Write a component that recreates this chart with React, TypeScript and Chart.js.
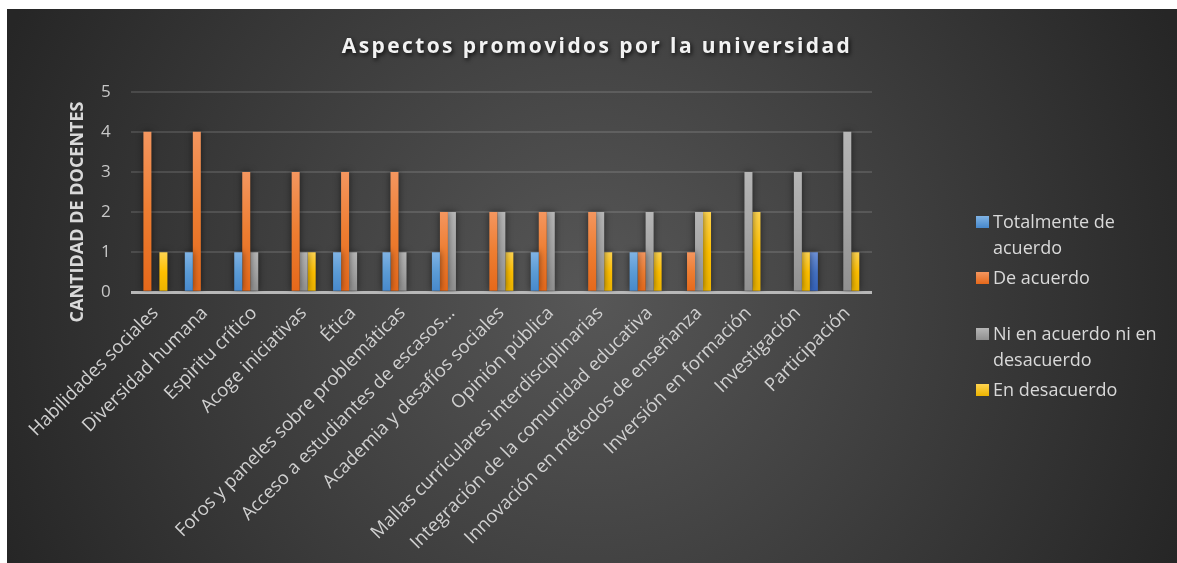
import React, { useEffect, useRef } from "react";
import { Chart, registerables } from "chart.js";

Chart.register(...registerables);

const chartTitle = "Aspectos promovidos por la universidad";
const yAxisTitle = "CANTIDAD DE DOCENTES";

const categories = [
  "Habilidades sociales",
  "Diversidad humana",
  "Espìritu crítico",
  "Acoge iniciativas",
  "Ética",
  "Foros y paneles sobre problemáticas",
  "Acceso a estudiantes de escasos…",
  "Academia y desafíos sociales",
  "Opinión pública",
  "Mallas curriculares interdisciplinarias",
  "Integración de la comunidad educativa",
  "Innovación en métodos de enseñanza",
  "Inversión en formación",
  "Investigación",
  "Participación",
];

const seriesNames = [
  "Totalmente de acuerdo",
  "De acuerdo",
  "Ni en acuerdo ni en desacuerdo",
  "En desacuerdo",
  "Totalmente en desacuerdo",
];

const totalmenteDeAcuerdo = [0, 1, 1, 0, 1, 1, 1, 0, 1, 0, 1, 0, 0, 0, 0];
const deAcuerdo = [4, 4, 3, 3, 3, 3, 2, 2, 2, 2, 1, 1, 0, 0, 0];
const niAcuerdoNiDesacuerdo = [0, 0, 1, 1, 1, 1, 2, 2, 2, 2, 2, 2, 3, 3, 4];
const enDesacuerdo = [1, 0, 0, 1, 0, 0, 0, 1, 0, 1, 1, 2, 2, 1, 1];
const totalmenteEnDesacuerdo = [0, 0, 0, 0, 0, 0, 0, 0, 0, 0, 0, 0, 0, 1, 0];

const seriesValues = [
  totalmenteDeAcuerdo,
  deAcuerdo,
  niAcuerdoNiDesacuerdo,
  enDesacuerdo,
  totalmenteEnDesacuerdo,
];
const legendShown = [true, true, true, true, false];

const yMin = 0;
const yMax = 5;
const yStep = 1;

// styles
const seriesGradients: [string, string, string][] = [
  ["#80B3E4", "#5B9BD5", "#4688CC"],
  ["#F4965F", "#ED7D31", "#E5681A"],
  ["#B6B6B6", "#A5A5A5", "#909090"],
  ["#FFD450", "#FFC000", "#EBB300"],
  ["#6E92D8", "#4472C4", "#3462BC"],
];

const FONT = "'Open Sans', 'DejaVu Sans', sans-serif";

const barShadowPlugin = {
  id: "barShadow",
  beforeDatasetsDraw(chart: any) {
    const ctx = chart.ctx;
    ctx.save();
    ctx.shadowColor = "rgba(0,0,0,0.55)";
    ctx.shadowBlur = 7;
    ctx.shadowOffsetX = 0;
    ctx.shadowOffsetY = 0;
  },
  afterDatasetsDraw(chart: any) {
    chart.ctx.restore();
  },
};

function wrapText(ctx: CanvasRenderingContext2D, text: string, maxW: number) {
  const words = text.split(" ");
  const lines: string[] = [];
  let cur = "";
  for (const w of words) {
    const t = cur ? cur + " " + w : w;
    if (ctx.measureText(t).width > maxW && cur) {
      lines.push(cur);
      cur = w;
    } else cur = t;
  }
  if (cur) lines.push(cur);
  return lines;
}

const overlayPlugin = {
  id: "overlay",
  afterDraw(chart: any) {
    const ctx: CanvasRenderingContext2D = chart.ctx;
    // Title
    ctx.save();
    ctx.font = `bold 21px ${FONT}`;
    (ctx as any).letterSpacing = "2.4px";
    ctx.fillStyle = "#f2f2f2";
    ctx.textAlign = "center";
    ctx.textBaseline = "middle";
    ctx.shadowColor = "rgba(0,0,0,0.8)";
    ctx.shadowBlur = 4;
    ctx.shadowOffsetX = 1.5;
    ctx.shadowOffsetY = 2;
    ctx.fillText(chartTitle, 590, 38);
    ctx.restore();

    // Y axis title
    ctx.save();
    ctx.font = `bold 18px ${FONT}`;
    ctx.fillStyle = "#d9d9d9";
    ctx.textAlign = "center";
    ctx.textBaseline = "middle";
    ctx.translate(71, 203);
    ctx.rotate(-Math.PI / 2);
    ctx.fillText(yAxisTitle, 0, 0);
    ctx.restore();

    // Legend
    ctx.save();
    ctx.font = `18px ${FONT}`;
    ctx.textAlign = "left";
    ctx.textBaseline = "middle";
    let slot = 0;
    chart.data.datasets.forEach((ds: any, i: number) => {
      if (!legendShown[i]) return;
      const y0 = 213 + slot * 56;
      const g = ctx.createLinearGradient(0, y0 - 6, 0, y0 + 6);
      g.addColorStop(0, seriesGradients[i][0]);
      g.addColorStop(1, seriesGradients[i][2]);
      ctx.fillStyle = g;
      ctx.fillRect(969, y0 - 6, 13, 12);
      ctx.fillStyle = "#d9d9d9";
      const lines = wrapText(ctx, ds.label, 178);
      lines.forEach((ln, k) => ctx.fillText(ln, 986, y0 + 1 + k * 26));
      slot++;
    });
    ctx.restore();
  },
};

export default function App() {
  const ref = useRef<HTMLCanvasElement | null>(null);

  useEffect(() => {
    if (!ref.current) return;
    Chart.defaults.font.family = FONT;
    const chart = new Chart(ref.current, {
      type: "bar",
      data: {
        labels: categories,
        datasets: seriesValues.map((vals, i) => ({
          label: seriesNames[i],
          data: vals,
          borderWidth: 0,
          categoryPercentage: 0.81,
          barPercentage: 1.0,
          backgroundColor: (c: any) => {
            const ch = c.chart;
            if (!ch.chartArea || c.raw == null || c.raw === 0) return seriesGradients[i][1];
            const ys = ch.scales.y;
            const top = ys.getPixelForValue(c.raw);
            const bot = ys.getPixelForValue(0);
            const g = ch.ctx.createLinearGradient(0, top, 0, bot);
            g.addColorStop(0, seriesGradients[i][0]);
            g.addColorStop(0.5, seriesGradients[i][1]);
            g.addColorStop(1, seriesGradients[i][2]);
            return g;
          },
        })),
      },
      options: {
        animation: false,
        responsive: true,
        maintainAspectRatio: false,
        layout: { padding: { left: 0, right: 305, top: 82.7, bottom: 0 } },
        plugins: {
          legend: { display: false },
          title: { display: false },
          tooltip: { enabled: false },
        },
        scales: {
          x: {
            grid: { display: false },
            border: { display: false },
            ticks: {
              autoSkip: false,
              maxRotation: 45,
              minRotation: 45,
              color: "#d0d0d0",
              font: { size: 18.5, family: FONT },
              padding: 2,
            },
            afterFit: (s: any) => {
              s.height = 270.7;
            },
          },
          y: {
            min: yMin,
            max: yMax,
            border: { display: false },
            grid: {
              drawTicks: false,
              color: (c: any) => (c.tick && c.tick.value === 0 ? "#b8b8b8" : "rgba(255,255,255,0.12)"),
              lineWidth: (c: any) => (c.tick && c.tick.value === 0 ? 3 : 2),
            },
            ticks: {
              stepSize: yStep,
              color: "#c8c8c8",
              font: { size: 17, family: FONT },
              padding: 20,
            },
            afterFit: (s: any) => {
              s.width = 123.7;
            },
          },
        },
      },
      plugins: [barShadowPlugin, overlayPlugin],
    });
    return () => chart.destroy();
  }, []);

  return (
    <div
      style={{
        position: "absolute",
        left: 7,
        top: 9,
        width: 1170,
        height: 554,
        overflow: "hidden",
        background: "radial-gradient(circle 640px at 50% 52%, #575757 0%, #262626 100%)",
      }}
    >
      <canvas ref={ref} style={{ display: "block" }} />
    </div>
  );
}
